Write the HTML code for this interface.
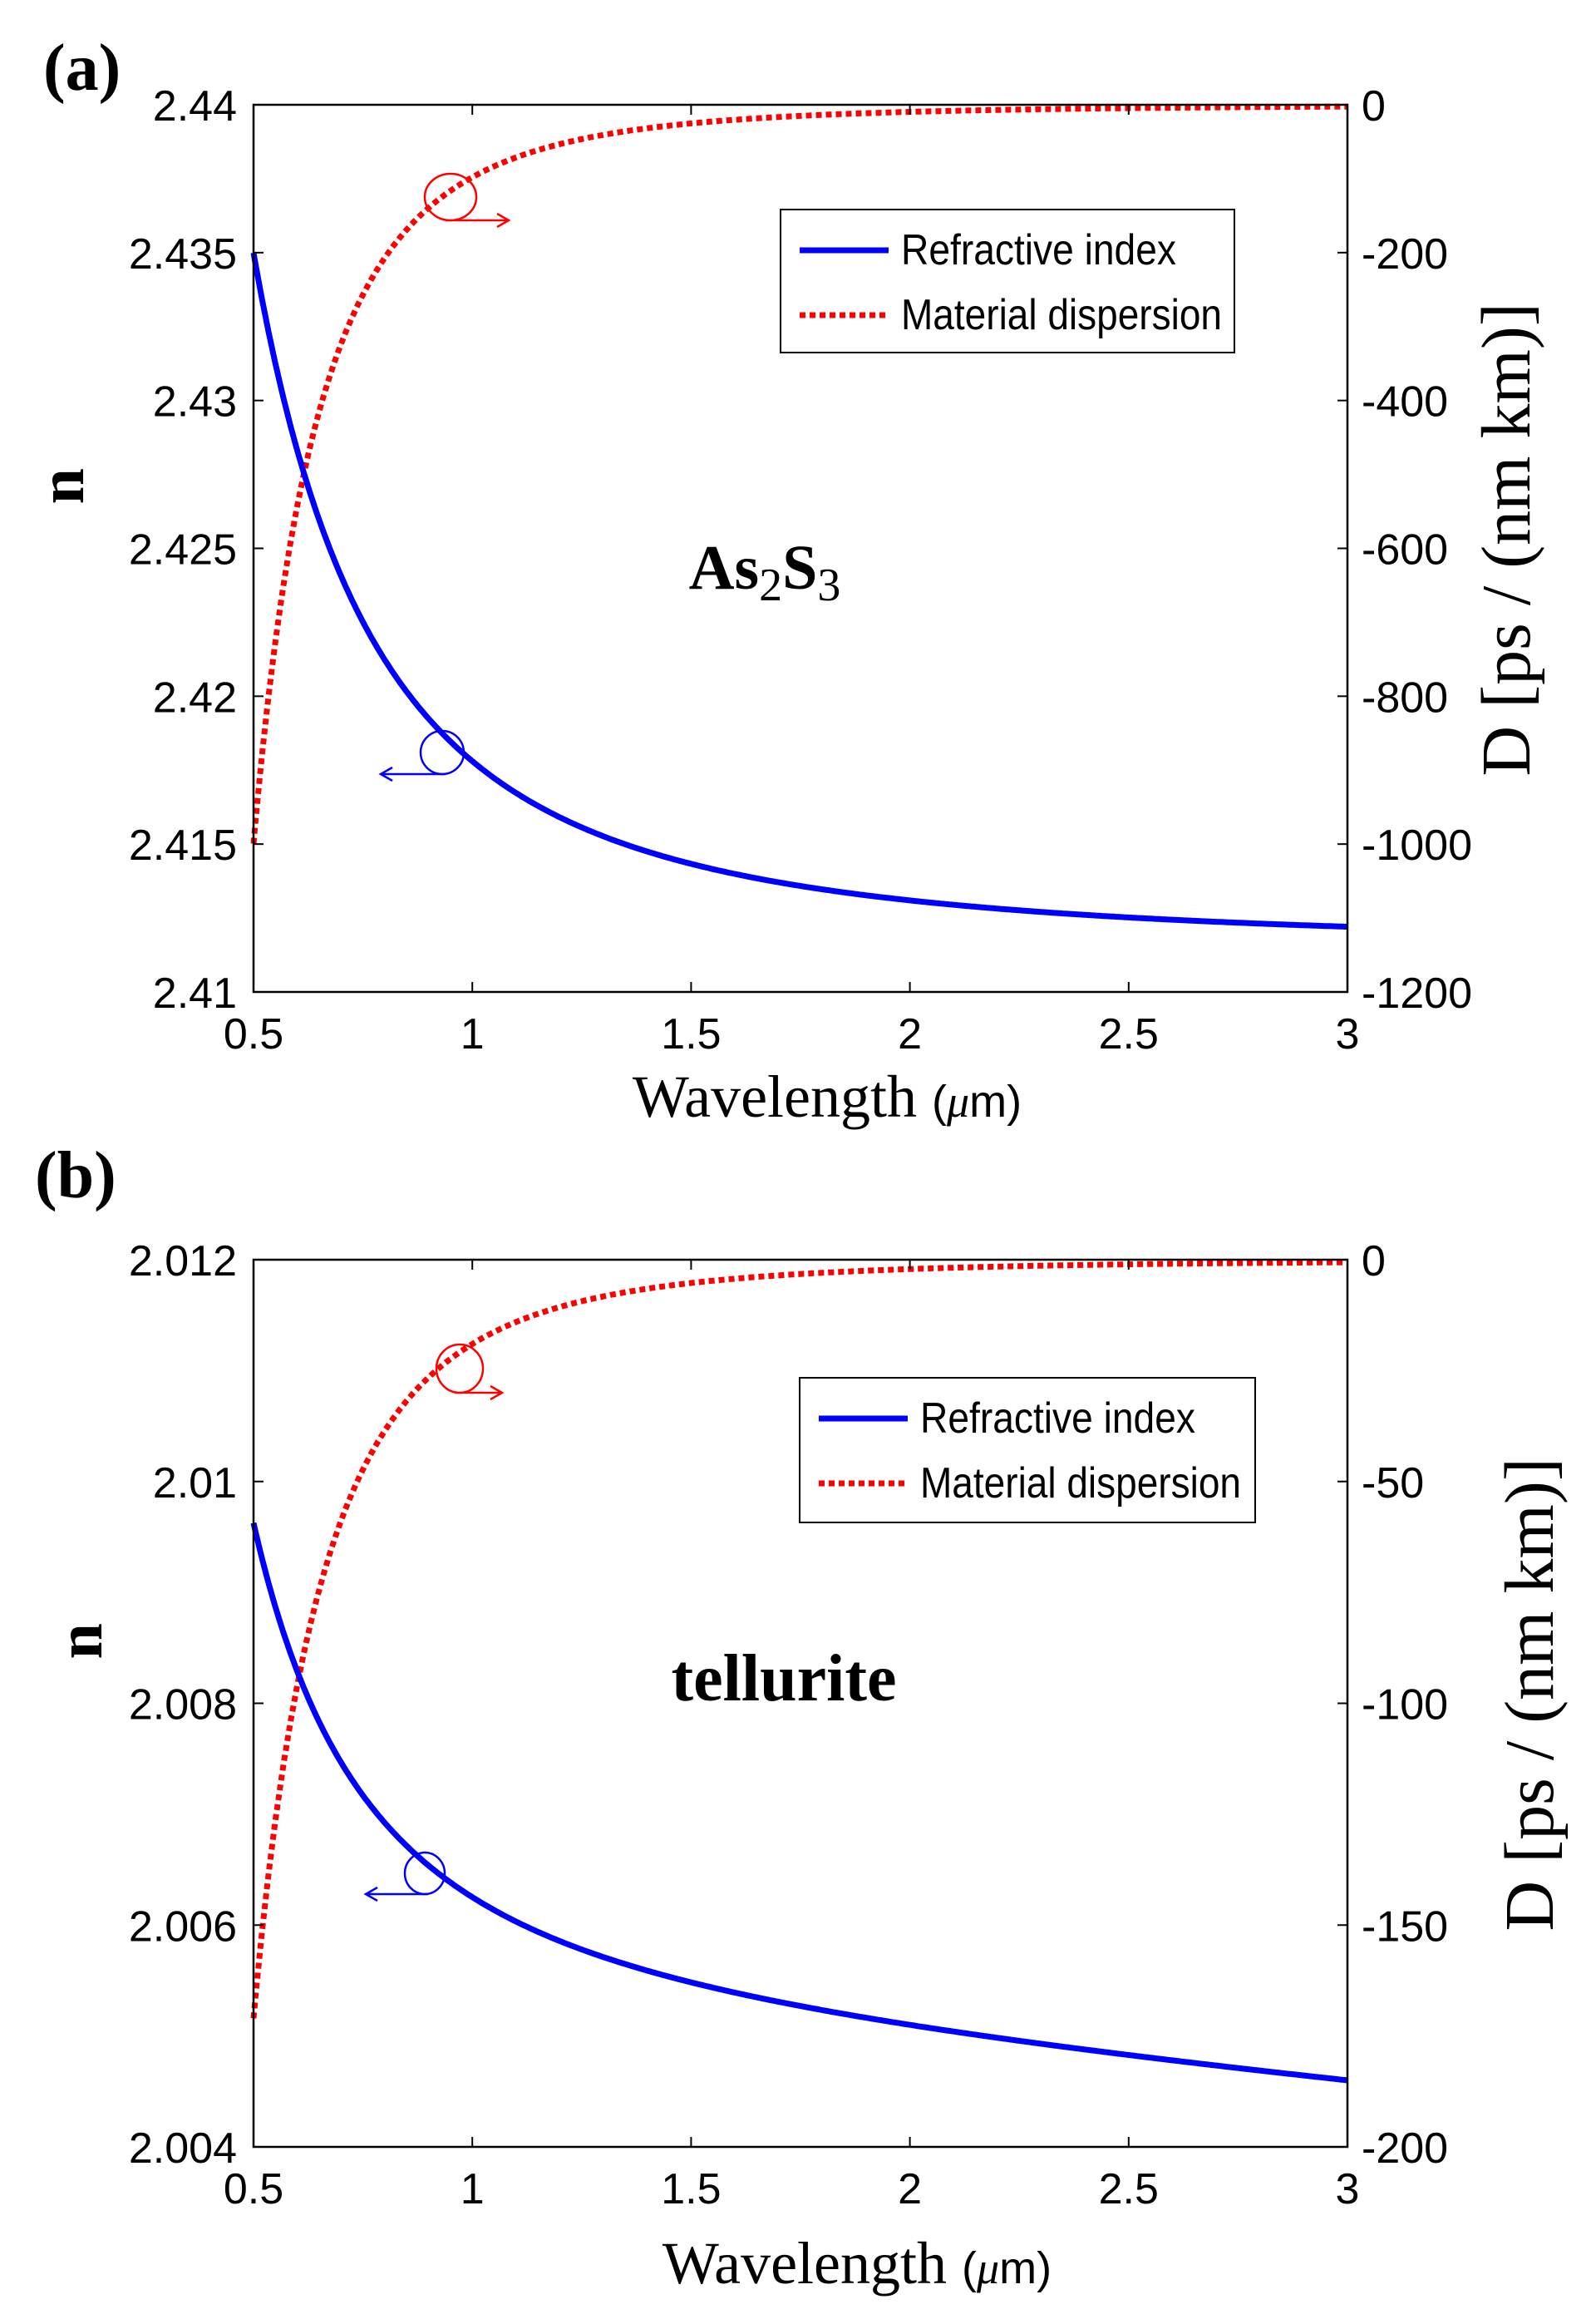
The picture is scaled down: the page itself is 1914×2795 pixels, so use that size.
<!DOCTYPE html>
<html><head><meta charset="utf-8"><style>
html,body{margin:0;padding:0;background:#fff;}
svg{display:block}
.t{font-family:"Liberation Sans",Arial,sans-serif;font-size:52px;fill:#000}
.s{font-family:"Liberation Serif","Times New Roman",serif;fill:#000}
</style></head><body>
<svg id="g" xmlns="http://www.w3.org/2000/svg" width="1914" height="2795" viewBox="0 0 1914 2795">
<rect width="1914" height="2795" fill="#fff"/>
<text class="s" x="52" y="108" font-size="80" font-weight="bold">(a)</text>
<text class="s" x="42" y="1440" font-size="80" font-weight="bold">(b)</text>
</svg>
<script>
const svg=document.getElementById('g');
const NS='http://www.w3.org/2000/svg';
function el(tag,attrs,txt){const e=document.createElementNS(NS,tag);for(const k in attrs)e.setAttribute(k,attrs[k]);if(txt!==undefined)e.textContent=txt;svg.appendChild(e);return e;}
function panel(o){
 const L=305,R=1621,T=o.T,B=o.T+1067,W=R-L,H=B-T;
 const X=v=>L+(v-0.5)/2.5*W;
 const Yn=v=>B-(v-o.nmin)/(o.nmax-o.nmin)*H;
 const Yd=v=>B-(v-o.dmin)/(0-o.dmin)*H;
 let pn='',pd='';
 for(let i=0;i<=500;i++){const l=0.5+2.5*i/500;pn+=(i?'L':'M')+X(l).toFixed(1)+' '+Yn(o.n(l)).toFixed(1);pd+=(i?'L':'M')+X(l).toFixed(1)+' '+Yd(o.d(l)).toFixed(1);}
 el('path',{d:pd,fill:'none',stroke:'#f00','stroke-width':7,'stroke-dasharray':'7 5'});
 el('path',{d:pn,fill:'none',stroke:'#00f','stroke-width':7});
 el('rect',{x:L,y:T,width:W,height:H,fill:'none',stroke:'#000','stroke-width':2.5});
 [0.5,1,1.5,2,2.5,3].forEach(v=>{const x=X(v);
  el('line',{x1:x,y1:B,x2:x,y2:B-12,stroke:'#000','stroke-width':2});
  el('line',{x1:x,y1:T,x2:x,y2:T+12,stroke:'#000','stroke-width':2});
  el('text',{class:'t',x:x,y:B+68,'text-anchor':'middle'},String(v));});
 for(let i=0;i<o.nt.length;i++){const y=B-i/(o.nt.length-1)*H;
  el('line',{x1:L,y1:y,x2:L+12,y2:y,stroke:'#000','stroke-width':2});
  el('line',{x1:R,y1:y,x2:R-12,y2:y,stroke:'#000','stroke-width':2});
  el('text',{class:'t',x:285,y:y+19,'text-anchor':'end'},o.nt[i]);
  el('text',{class:'t',x:1638,y:y+19},o.dt[i]);}
 const xl=el('text',{class:'s',x:995+o.xx,y:B+150+o.xo,'text-anchor':'middle','font-size':72});
 xl.innerHTML='Wavelength <tspan font-family="Liberation Sans, sans-serif" font-size="54">(<tspan font-style="italic" font-family="Liberation Serif, serif">μ</tspan>m)</tspan>';
 el('text',{class:'s',x:0,y:0,'font-size':78,'font-weight':'bold','text-anchor':'middle',transform:`translate(${o.nx},${T+H*0.43}) rotate(-90)`},'n');
 el('text',{class:'s',x:0,y:0,'font-size':84,'text-anchor':'middle',transform:`translate(${o.dx},${T+H*0.49}) rotate(-90)`},'D [ps / (nm km)]');
 const g=o.lg;
 el('rect',{x:g[0],y:g[1],width:g[2],height:g[3],fill:'#fff',stroke:'#000','stroke-width':2});
 el('line',{x1:g[0]+23,y1:g[1]+49,x2:g[0]+130,y2:g[1]+49,stroke:'#00f','stroke-width':7});
 el('line',{x1:g[0]+23,y1:g[1]+127,x2:g[0]+130,y2:g[1]+127,stroke:'#f00','stroke-width':7,'stroke-dasharray':'7 5'});
 el('text',{class:'t',x:g[0]+145,y:g[1]+66,'font-size':45,textLength:331,lengthAdjust:'spacingAndGlyphs'},'Refractive index');
 el('text',{class:'t',x:g[0]+145,y:g[1]+144,'font-size':45,textLength:386,lengthAdjust:'spacingAndGlyphs'},'Material dispersion');
 const rc=o.rc,bc=o.bc;
 el('ellipse',{cx:rc[0],cy:rc[1],rx:rc[2],ry:rc[3],fill:'none',stroke:'#f00','stroke-width':2.5});
 el('path',{d:`M${rc[0]-6} ${rc[1]+rc[3]}L${rc[4]} ${rc[1]+rc[3]}M${rc[4]-14} ${rc[1]+rc[3]-8}L${rc[4]} ${rc[1]+rc[3]}L${rc[4]-14} ${rc[1]+rc[3]+8}`,fill:'none',stroke:'#f00','stroke-width':2.5});
 el('ellipse',{cx:bc[0],cy:bc[1],rx:bc[2],ry:bc[3],fill:'none',stroke:'#00f','stroke-width':2.5});
 el('path',{d:`M${bc[0]+4} ${bc[1]+bc[3]}L${bc[4]} ${bc[1]+bc[3]}M${bc[4]+14} ${bc[1]+bc[3]-8}L${bc[4]} ${bc[1]+bc[3]}L${bc[4]+14} ${bc[1]+bc[3]+8}`,fill:'none',stroke:'#00f','stroke-width':2.5});
 const ml=el('text',{class:'s',x:o.mx,y:o.my,'font-size':o.mf,'font-weight':'bold','text-anchor':'middle'});
 ml.innerHTML=o.ml;
}
panel({T:126,nmin:2.41,nmax:2.44,dmin:-1200,xo:0,xx:0,
 n:l=>2.41149+0.00646/(l*l)-0.000146/(l**4),
 d:l=>-98/Math.pow(l,3.35),
 nt:['2.41','2.415','2.42','2.425','2.43','2.435','2.44'],
 dt:['-1200','-1000','-800','-600','-400','-200','0'],
 nx:100,dx:1840,lg:[939,252,546,172],
 rc:[542,237,31,28,612],bc:[532,905,26,26,458],
 mx:920,my:708,mf:76,ml:'As<tspan font-weight="normal" font-size="56" dy="14">2</tspan><tspan dy="-14">S</tspan><tspan font-weight="normal" font-size="56" dy="14">3</tspan>'});
panel({T:1515,nmin:2.004,nmax:2.012,dmin:-200,xo:14,xx:36,
 n:l=>2.005538+0.001066/(l*l)-0.000352*l,
 d:l=>-19/Math.pow(l,3.17),
 nt:['2.004','2.006','2.008','2.01','2.012'],
 dt:['-200','-150','-100','-50','0'],
 nx:122,dx:1868,lg:[962,1657,548,174],
 rc:[553,1646,28,29,604],bc:[511,2253,24,25,440],
 mx:943,my:2045,mf:80,ml:'tellurite'});
</script>
</body></html>
